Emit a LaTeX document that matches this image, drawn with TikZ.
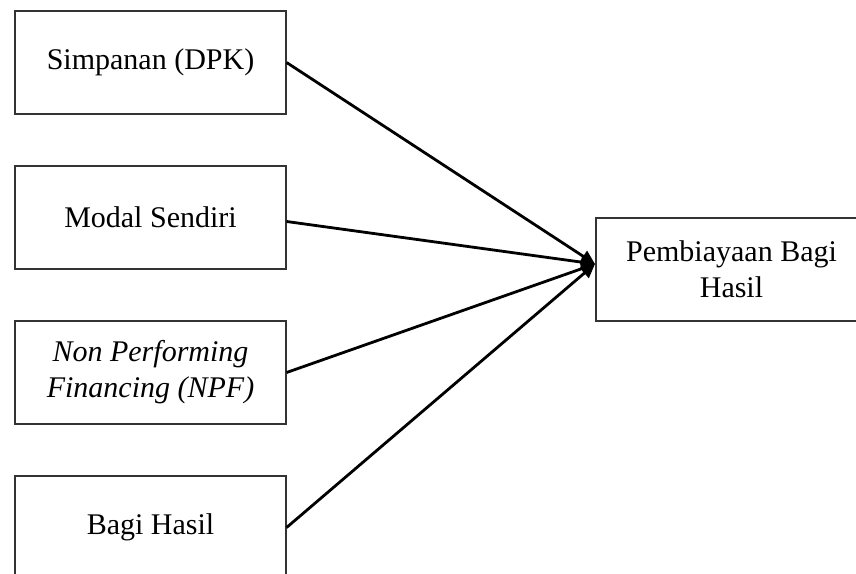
\documentclass[tikz,border=0pt]{standalone}
\usepackage{fontspec}
\setmainfont{Liberation Serif}
\usetikzlibrary{arrows.meta}

\begin{document}
\begin{tikzpicture}[x=0.5pt, y=-0.5pt,
		varbox/.style={draw=black!80, line width=0.6pt, minimum width=135.5pt, minimum height=51.5pt,
			inner sep=0pt, align=center, font=\fontsize{15}{18}\selectfont},
		link/.style={line width=1.4pt, -{Triangle[length=7pt, width=6.5pt]}}]
		%%%%% START %%%%%
		
		\useasboundingbox (0, 0) rectangle (856, 573);
		\clip (0, 0) rectangle (856, 573);
		
		\node[varbox] (dpk) at (150.5, 62.5) {Simpanan (DPK)};
		\node[varbox] (modal) at (150.5, 217.5) {Modal Sendiri};
		\node[varbox] (npf) at (150.5, 372.5) {\itshape Non Performing\\\itshape Financing (NPF)};
		\node[varbox] (bagi) at (150.5, 527.5) {Bagi Hasil};
		
		\node[varbox] (pbh) at (731.5, 269.5) {Pembiayaan Bagi\\Hasil};
		\coordinate (tip) at (595, 264);
		
		\draw[link] (dpk.east) -- (tip);
		\draw[link] ([yshift=-2pt]modal.east) -- (tip);
		\draw[link] (npf.east) -- (tip);
		\draw[link] (bagi.east) -- (tip);
		
		%%%%% END %%%%%
	\end{tikzpicture}
\end{document}
